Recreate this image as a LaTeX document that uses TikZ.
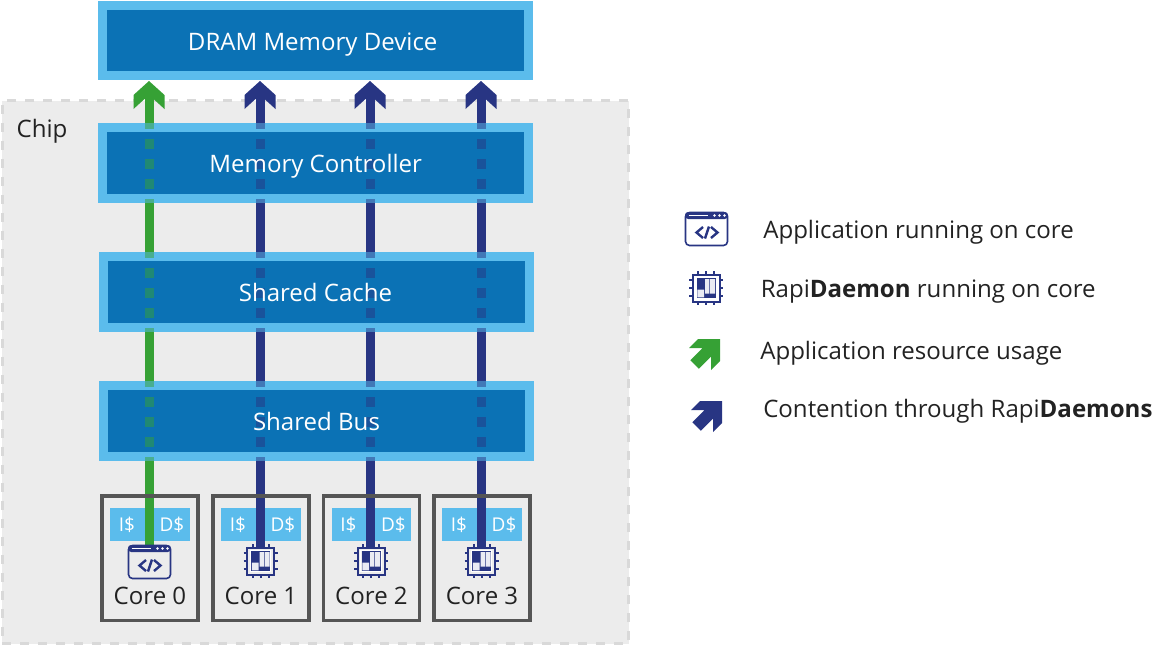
\documentclass[tikz,border=0pt]{standalone}
\usepackage{fontspec}
\setmainfont{Open Sans}
\usetikzlibrary{backgrounds}
\definecolor{chipgray}{RGB}{236,236,236}
\definecolor{chipdash}{RGB}{217,217,217}
\definecolor{boxdark}{RGB}{11,114,181}
\definecolor{boxlight}{RGB}{91,188,236}
\definecolor{corenavy}{RGB}{40,53,131}
\definecolor{appgreen}{RGB}{54,161,53}
\definecolor{textdark}{RGB}{34,34,34}
\definecolor{coreedge}{RGB}{85,85,85}
\tikzset{
  sharedbox/.style = {draw=boxlight, fill=boxdark, line width=0.225cm, minimum width=10.65cm,
                      minimum height=1.76cm},
  sharedtext/.style = {text=white, inner sep=0pt, text height=13.4pt, text depth=0pt,
                       font=\fontsize{17.1}{20}\selectfont},
  corebox/.style   = {draw=coreedge, line width=0.09cm, minimum width=2.4cm, minimum height=3.1cm},
  l1box/.style     = {fill=boxlight, minimum width=1.975cm, minimum height=0.825cm},
  l1text/.style    = {text=white, inner sep=0pt, font=\fontsize{13.5}{16}\selectfont},
  corelabel/.style = {text=textdark, inner sep=0pt, font=\fontsize{17.1}{20}\selectfont},
  legendtext/.style = {text=textdark, anchor=west, inner sep=0pt, font=\fontsize{17.1}{20}\selectfont},
  flowline/.style  = {line width=0.225cm},
  flowdash/.style  = {line width=0.225cm, opacity=0.5, dash pattern=on 7.11pt off 7.11pt, dash phase=4.27pt},
  appicon/.pic = {
    \draw[corenavy, line width=0.04cm, rounded corners=0.1cm] (-21,-16.5) rectangle (21,16.5);
    \fill[corenavy, rounded corners=0.08cm] (-21.5,-17) rectangle (21.5,-10);
    \draw[white, line width=0.03cm] (-18,-13.5) -- (1,-13.5);
    \foreach \d in {8,13,18} { \fill[white] (\d,-13.5) circle (0.035cm); }
    \draw[corenavy, line width=0.06cm] (-3.5,-2) -- (-10,3.5) -- (-3.5,9) (4.5,-2) -- (11,3.5) -- (4.5,9) (2.5,-2.5) -- (-1.5,9.5);
  },
  daemonicon/.pic = {
    \draw[corenavy, line width=0.05cm] (-13.5,-13.5) rectangle (13.5,13.5);
    \fill[corenavy] (-9.5,-10) rectangle (9.5,10);
    \draw[white, line width=0.02cm] (-10.2,-10.7) rectangle (10.2,10.7);
    \fill[white!90!corenavy] (-1,-9) rectangle (3.3,5.7) (4.2,-9) rectangle (9,5.7) (-8.7,1.7) rectangle (-2,9.3);
    \foreach \d in {-8,0,8} {
      \draw[corenavy, line width=0.05cm] (\d,-17) -- (\d,-13.5) (\d,13.5) -- (\d,17) (-17,\d) -- (-13.5,\d) (13.5,\d) -- (17,\d);
    }
  },
  flowhead/.pic = {
    \fill[pic actions] (0,0) -- (15.5,14) -- (15.5,28) -- (4.5,18) -- (-4.5,18) -- (-15.5,28) -- (-15.5,14) -- cycle;
  },
  legendarrow/.pic = {
    \fill[pic actions] (0,0) -- (0,22) -- (-9,31) -- (-9,17.5) -- (-21.25,29.75) -- (-29.75,21.25) -- (-17.5,9) -- (-31,9) -- (-22,0) -- cycle;
  },
}

\begin{document}
\begin{tikzpicture}[x=0.025cm, y=-0.025cm]
  \useasboundingbox (0,0) rectangle (1168,646);
  % shared resources
  \node[sharedbox] (dram) at (315.7,40.5) {};
  \node[sharedbox] (ctrl) at (315.7,163) {};
  \node[sharedbox] (cache) at (316.5,292) {};
  \node[sharedbox] (bus) at (316.5,420.8) {};
  % cores
  \foreach \i/\x in {0/150, 1/261, 2/371.5, 3/482} {
    \node[corebox] (core\i) at (\x,558.3) {};
    \node[corelabel] (corelab\i) at (\x,596) {Core \i};
  }
  \coordinate (start0) at (149,546);
  \coordinate (start1) at (260,548);
  \coordinate (start2) at (370,548);
  \coordinate (start3) at (481,548);
  \coordinate (tip0) at (149,81);
  \coordinate (tip1) at (260,81);
  \coordinate (tip2) at (370,81);
  \coordinate (tip3) at (481,81);
  % chip and lines go behind the boxes
  \begin{scope}[on background layer]
    \node[draw=chipdash, fill=chipgray, line width=0.075cm, dash pattern=on 6.4pt off 6.4pt, minimum width=15.65cm, minimum height=13.58cm] (chip) at (315.5,372.2) {};
    \foreach \i/\x in {0/150, 1/261, 2/371.5, 3/482} {
      \node[l1box] (l1\i) at (\x,524.5) {};
      \node[l1text] (icache\i) at (\x-23,525) {I\$};
      \node[l1text] (dcache\i) at (\x+22,525) {D\$};
    }
    \draw[flowline, appgreen] (start0) -- ([yshift=-0.4cm]tip0);
    \foreach \i in {1,2,3} {
      \draw[flowline, corenavy] (start\i) -- ([yshift=-0.4cm]tip\i);
    }
  \end{scope}
  \node[text=textdark, inner sep=0pt, font=\fontsize{17.1}{20}\selectfont] (chiplab) at (42,131) {Chip};
  % dashes seen through the boxes
  \foreach \b in {ctrl, cache, bus} {
    \draw[flowdash, appgreen] (tip0 |- \b.south) -- (tip0 |- \b.north);
    \foreach \i in {1,2,3} {
      \draw[flowdash, corenavy] (tip\i |- \b.south) -- (tip\i |- \b.north);
    }
  }
  % box texts over the dashes
  \node[sharedtext] (dramlab) at (312.7,41) {DRAM Memory Device};
  \node[sharedtext] (ctrllab) at (ctrl) {Memory Controller};
  \node[sharedtext] (cachelab) at (315.5,292) {Shared Cache};
  \node[sharedtext] (buslab) at (bus) {Shared Bus};
  % arrow heads
  \pic[appgreen] at (tip0) {flowhead};
  \foreach \i in {1,2,3} { \pic[corenavy] at (tip\i) {flowhead}; }
  % icons on the cores
  \pic at (149.5,562) {appicon};
  \foreach \x in {260.5,371,481.5} { \pic at (\x,561) {daemonicon}; }
  % legend
  \pic at (706.5,229) {appicon};
  \pic at (706,288) {daemonicon};
  \pic[appgreen] at (720,339) {legendarrow};
  \pic[corenavy] at (722,401) {legendarrow};
  \node[legendtext] (leg1) at (763,232) {Application running on core};
  \node[legendtext] (leg2) at (760.5,291.5) {Rapi\textbf{Daemon} running on core};
  \node[legendtext] (leg3) at (760,353) {Application resource usage};
  \node[legendtext] (leg4) at (763,411) {Contention through Rapi\textbf{Daemons}};
\end{tikzpicture}
\end{document}
